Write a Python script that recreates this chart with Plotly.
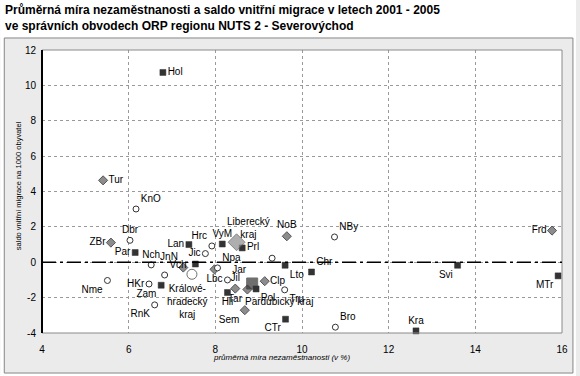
import plotly.graph_objects as go

# ---- Data: Liberecký kraj ORP (diamonds) ----
lib_names = ["Tur", "ZBr", "JnN", "Lbc", "NoB", "Jil", "Tar", "Clp", "Sem", "Frd"]
lib_unemp = [5.41, 5.59, 7.26, 7.98, 9.65, 8.46, 8.74, 9.14, 8.68, 15.77]
lib_migr = [4.63, 1.11, -0.30, -0.40, 1.47, -1.49, -1.54, -1.07, -2.71, 1.79]

# ---- Data: Pardubický kraj ORP (squares) ----
par_names = ["Hol", "Lan", "VyM", "Prl", "", "Par", "Zam", "Hli", "Pol", "CTr",
             "Lto", "Chr", "Kra", "Svi", "MTr"]
par_unemp = [6.79, 7.39, 8.16, 8.62, 7.54, 6.15, 6.75, 8.28, 8.94, 9.62,
             9.61, 10.22, 12.63, 13.59, 15.91]
par_migr = [10.73, 1.00, 1.03, 0.81, -0.10, 0.55, -1.30, -1.71, -1.51, -3.22,
            -0.17, -0.55, -3.88, -0.17, -0.77]

# ---- Data: Královéhradecký kraj ORP (open circles) ----
khk_names = ["KnO", "Dbr", "Hrc", "Jic", "NBy", "Npa", "Vch", "Nch", "Nme", "HKr",
             "RnK", "Jar", "Tru", "Bro", ""]
khk_unemp = [6.17, 6.03, 7.92, 7.77, 10.75, 8.05, 6.83, 6.52, 5.51, 6.47,
             6.60, 8.28, 9.60, 10.77, 9.31]
khk_migr = [3.01, 1.24, 0.92, 0.49, 1.43, -0.32, -0.72, -0.15, -1.03, -1.23,
            -2.41, -1.00, -1.56, -3.67, 0.23]

# ---- Data: regional averages ----
reg_labels = ["Liberecký<br>kraj", "Králové-<br>hradecký<br>kraj", "Pardubický kraj"]
reg_unemp = [8.49, 7.46, 8.85]
reg_migr = [1.13, -0.68, -1.20]

x_ticks = [4, 6, 8, 10, 12, 14, 16]
y_ticks = [-4, -2, 0, 2, 4, 6, 8, 10, 12]

title_lines = ["Průměrná míra nezaměstnanosti a saldo vnitřní migrace v letech 2001 - 2005",
               "ve správních obvodech ORP regionu NUTS 2 - Severovýchod"]
x_title = "průměrná míra nezaměstnanosti (v %)"
y_title = "saldo vnitřní migrace na 1000 obyvatel"

# ---- Styles (label placement) ----
lib_pos = ["middle right", "middle left", "top left", "bottom center", "top center",
           "top center", "bottom left", "middle right", "bottom left", "middle left"]
par_pos = ["middle right", "middle left", "top center", "middle right", "middle right",
           "middle left", "bottom left", "bottom center", "bottom right", "bottom left",
           "bottom right", "top right", "top center", "bottom left", "bottom left"]
khk_pos = ["top right", "top center", "top left", "middle left", "top right",
           "top right", "top right", "top center", "bottom left", "middle left",
           "bottom left", "top right", "bottom right", "top right", "top center"]
reg_shift = [(12, 14), (-4, -27), (27, -18)]

FONT = "Liberation Sans, Arial, sans-serif"
lbl_font = dict(family=FONT, size=10, color="#000000")
PANEL = "#ebebeb"
BORDER = "#8a8a8a"

fig = go.Figure()

fig.add_trace(go.Scatter(
    x=lib_unemp, y=lib_migr, mode="markers+text", text=lib_names,
    textposition=lib_pos, textfont=lbl_font,
    marker=dict(symbol="diamond", size=7, color="#8c8c8c",
                line=dict(color="#555555", width=1)),
    showlegend=False, cliponaxis=False, hoverinfo="skip"))

fig.add_trace(go.Scatter(
    x=par_unemp, y=par_migr, mode="markers+text", text=par_names,
    textposition=par_pos, textfont=lbl_font,
    marker=dict(symbol="square", size=6, color="#333333",
                line=dict(color="#333333", width=0.5)),
    showlegend=False, cliponaxis=False, hoverinfo="skip"))

fig.add_trace(go.Scatter(
    x=khk_unemp, y=khk_migr, mode="markers+text", text=khk_names,
    textposition=khk_pos, textfont=lbl_font,
    marker=dict(symbol="circle", size=6, color="#ffffff",
                line=dict(color="#333333", width=1)),
    showlegend=False, cliponaxis=False, hoverinfo="skip"))

# regional averages: big markers
fig.add_trace(go.Scatter(
    x=reg_unemp, y=reg_migr, mode="markers",
    marker=dict(symbol=["diamond", "circle", "square"], size=[13, 10, 11],
                color=["#8c8c8c", "#ffffff", "#333333"],
                line=dict(color=["#555555", "#333333", "#333333"], width=1)),
    showlegend=False, cliponaxis=False, hoverinfo="skip"))

for lab, xv, yv, (dx, dy) in zip(reg_labels, reg_unemp, reg_migr, reg_shift):
    fig.add_annotation(x=xv, y=yv, text=lab, showarrow=False,
                       xshift=dx, yshift=dy, font=lbl_font, align="center",
                       xanchor="center", yanchor="middle")

# Plot geometry (pixels)
W, H = 580, 376
L, R, T, B = 42, 14, 50, 43
pw, ph = W - L - R, H - T - B

def px_to_paper_x(px):
    return (px - L) / pw

def px_to_paper_y(py):
    return (H - B - py) / ph

# white strips around the gray panel (title area and edges)
for (ax0, ay0, ax1, ay1) in [(0, 0, W, 37.5), (0, 0, 3.5, H), (577.5, 0, W, H), (0, 373.5, W, H)]:
    fig.add_shape(type="rect", xref="paper", yref="paper",
                  x0=px_to_paper_x(ax0), x1=px_to_paper_x(ax1),
                  y0=px_to_paper_y(ay1), y1=px_to_paper_y(ay0),
                  fillcolor="#ffffff", line=dict(width=0), layer="above")
# gray panel border
fig.add_shape(type="rect", xref="paper", yref="paper",
              x0=px_to_paper_x(4), x1=px_to_paper_x(577),
              y0=px_to_paper_y(373), y1=px_to_paper_y(38),
              line=dict(color=BORDER, width=1), layer="above")
# plot area border
fig.add_shape(type="rect", xref="paper", yref="paper", x0=0, x1=1, y0=0, y1=1,
              line=dict(color=BORDER, width=1), layer="above")
# zero reference line (dash-dot)
fig.add_shape(type="line", xref="paper", yref="y", x0=0, x1=1, y0=0, y1=0,
              line=dict(color="#000000", width=1.5, dash="14px,4px,3px,4px"),
              layer="above")
# left axis line (black)
fig.add_shape(type="line", xref="paper", yref="paper", x0=0, x1=0, y0=0, y1=1,
              line=dict(color="#000000", width=2), layer="above")

# title (two lines)
for i, line in enumerate(title_lines):
    fig.add_annotation(xref="paper", yref="paper", x=px_to_paper_x(3),
                       y=px_to_paper_y(10 + 16 * i), xanchor="left", yanchor="middle",
                       text="<b>" + line + "</b>", showarrow=False,
                       font=dict(family=FONT, size=12, color="#000000"))

# axis titles
fig.add_annotation(xref="paper", yref="paper", x=px_to_paper_x(283), y=px_to_paper_y(357),
                   xanchor="center", yanchor="middle",
                   text="<i>" + x_title + "</i>", showarrow=False,
                   font=dict(family=FONT, size=8, color="#000000"))
fig.add_annotation(xref="paper", yref="paper", x=px_to_paper_x(18), y=px_to_paper_y(186),
                   xanchor="center", yanchor="middle",
                   text=y_title, showarrow=False, textangle=-90,
                   font=dict(family=FONT, size=7.5, color="#000000"))

fig.update_layout(
    width=W, height=H,
    margin=dict(l=L, r=R, t=T, b=B, pad=0),
    paper_bgcolor=PANEL, plot_bgcolor="#ffffff",
    font=dict(family=FONT, size=10, color="#000000"),
    hovermode=False,
    xaxis=dict(range=[4, 16], tickvals=x_ticks, ticktext=[str(v) for v in x_ticks],
               showgrid=True, gridcolor="#9a9a9a", griddash="3px,3px", gridwidth=1,
               zeroline=False, showline=False,
               ticks="", ticklabelstandoff=9,
               tickfont=dict(family=FONT, size=10, color="#000000")),
    yaxis=dict(range=[-4, 12], tickvals=y_ticks, ticktext=[str(v) for v in y_ticks],
               showgrid=True, gridcolor="#9a9a9a", griddash="3px,3px", gridwidth=1,
               zeroline=False, showline=False,
               ticks="", ticklabelstandoff=5,
               tickfont=dict(family=FONT, size=10, color="#000000")),
)

fig.write_html("out.html", config={"displayModeBar": False},
               post_script="document.body.style.margin='0px';document.body.style.overflow='hidden';")
